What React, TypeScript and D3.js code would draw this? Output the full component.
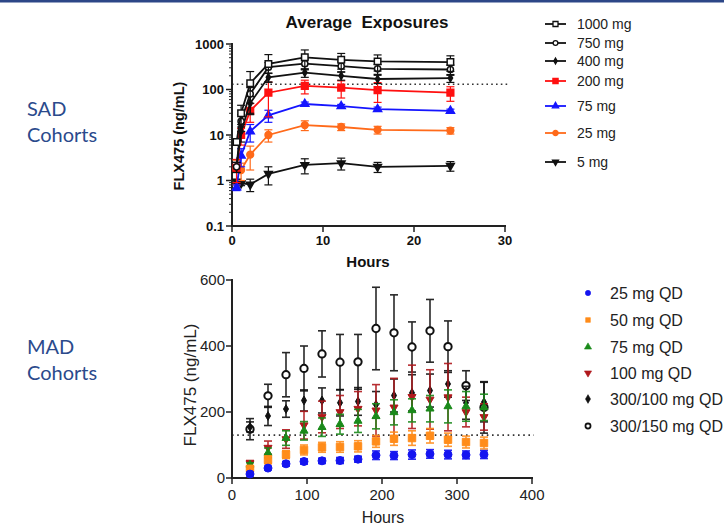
import React from "react";
import * as d3 from "d3";

// ---------- SAD (top) data ----------
const sadTimes = [0.5, 1, 2, 4, 8, 12, 16, 24];
const sadTimes5 = [0.5, 1, 2, 4, 8, 12, 16, 24];
const sad1000 = [7, 30, 138, 365, 510, 450, 415, 400];
const sad1000Sd = [1, 15, 110, 220, 230, 170, 160, 150];
const sad750 = [2, 20, 80, 310, 370, 325, 285, 275];
const sad750Sd = [0.5, 8, 30, 80, 100, 80, 70, 70];
const sad400 = [2, 12, 50, 185, 235, 200, 170, 178];
const sad400Sd = [0.5, 5, 20, 40, 50, 40, 35, 35];
const sad200 = [1.9, 10, 34, 85, 120, 110, 97, 85];
const sad200Sd = [1, 4, 15, 60, 40, 45, 45, 30];
const sad75 = [0.7, 3.5, 12, 27, 48, 43, 37, 34];
const sad75Sd = [0.1, 1.5, 5, 8, 5, 4, 4, 3];
const sad25 = [1.8, 1.7, 3.7, 10, 16.5, 15, 13, 12.5];
const sad25Sd = [1, 0.7, 2, 3, 4, 2.5, 2.5, 2];
const sad5 = [0.95, 0.87, 0.82, 1.4, 2.2, 2.4, 2.0, 2.1];
const sad5Sd = [0.1, 0.1, 0.25, 0.6, 0.8, 0.7, 0.5, 0.5];
const sadLabels = ["1000 mg", "750 mg", "400 mg", "200 mg", "75 mg", "25 mg", "5 mg"];
const sadYTicks = [0.1, 1, 10, 100, 1000];
const sadYTickLabels = ["0.1", "1", "10", "100", "1000"];
const sadXTicks = [0, 10, 20, 30];

// ---------- MAD (bottom) data ----------
const madTimes = [24, 48, 72, 96, 120, 144, 168, 192, 216, 240, 264, 288, 312, 336];
const mad25 = [12, 30, 43, 50, 52, 53, 57, 69, 68, 71, 73, 71, 70, 71];
const mad25Sd = [5, 5, 7, 8, 8, 9, 9, 13, 12, 14, 13, 13, 12, 12];
const mad50 = [28, 55, 71, 85, 93, 94, 96, 111, 119, 121, 128, 116, 109, 106];
const mad50Sd = [8, 12, 12, 15, 15, 16, 17, 18, 20, 22, 22, 20, 18, 18];
const mad75 = [40, 76, 121, 143, 154, 163, 173, 187, 199, 205, 210, 217, 217, 214];
const mad75Sd = [6, 15, 22, 28, 28, 30, 35, 38, 38, 35, 40, 50, 45, 40];
const mad100 = [45, 92, 118, 160, 185, 200, 210, 205, 214, 246, 238, 245, 200, 185];
const mad100Sd = [8, 20, 28, 42, 48, 50, 52, 78, 88, 96, 90, 102, 45, 40];
const mad300100 = [155, 188, 209, 235, 235, 228, 232, 222, 250, 258, 265, 285, 228, 230];
const mad300100Sd = [15, 29, 25, 32, 38, 40, 42, 40, 50, 55, 50, 40, 50, 60];
const mad300150 = [148, 249, 313, 332, 376, 351, 352, 453, 440, 397, 446, 398, 280, 214];
const mad300150Sd = [32, 35, 67, 68, 70, 84, 83, 125, 115, 76, 95, 78, 45, 78];
const madLabels = ["25 mg QD", "50 mg QD", "75 mg QD", "100 mg QD", "300/100 mg QD", "300/150 mg QD"];
const madYTicks = [0, 200, 400, 600];
const madXTicks = [0, 100, 200, 300, 400];
const threshold = 130;

const ARIAL = "'Liberation Sans', Arial, sans-serif";

type Shape = "square" | "circle" | "diamond" | "triangle" | "triangleDown";

function Marker({ x, y, shape, size, fill, stroke, sw = 1.5 }: any) {
  const typeMap: any = {
    square: d3.symbolSquare,
    circle: d3.symbolCircle,
    diamond: d3.symbolDiamond,
    triangle: d3.symbolTriangle,
    triangleDown: d3.symbolTriangle,
  };
  const p = d3.symbol().type(typeMap[shape]).size(size)() as string;
  const rot = shape === "triangleDown" ? 180 : 0;
  return (
    <path
      d={p}
      transform={`translate(${x},${y}) rotate(${rot})`}
      fill={fill}
      stroke={stroke}
      strokeWidth={sw}
    />
  );
}

export default function App() {
  // ---- top scales ----
  const xT = d3.scaleLinear().domain([0, 30]).range([232, 505]);
  const yT = d3.scaleLog().domain([0.1, 1000]).range([226, 44]);
  // ---- bottom scales ----
  const xB = d3.scaleLinear().domain([0, 400]).range([232, 532]);
  const yB = d3.scaleLinear().domain([0, 600]).range([478, 280]);

  const sadSeries = [
    { label: sadLabels[6], t: sadTimes5, v: sad5, sd: sad5Sd, color: "#111", shape: "triangleDown" as Shape, size: 26, open: false },
    { label: sadLabels[5], t: sadTimes, v: sad25, sd: sad25Sd, color: "#ff6a1a", shape: "circle" as Shape, size: 36, open: false },
    { label: sadLabels[4], t: sadTimes, v: sad75, sd: sad75Sd, color: "#1515ff", shape: "triangle" as Shape, size: 28, open: false },
    { label: sadLabels[3], t: sadTimes, v: sad200, sd: sad200Sd, color: "#ff1010", shape: "square" as Shape, size: 45, open: false },
    { label: sadLabels[2], t: sadTimes, v: sad400, sd: sad400Sd, color: "#111", shape: "diamond" as Shape, size: 16, open: false },
    { label: sadLabels[1], t: sadTimes, v: sad750, sd: sad750Sd, color: "#111", shape: "circle" as Shape, size: 30, open: true },
    { label: sadLabels[0], t: sadTimes, v: sad1000, sd: sad1000Sd, color: "#111", shape: "square" as Shape, size: 42, open: true },
  ];

  const madSeries = [
    { label: madLabels[5], v: mad300150, sd: mad300150Sd, color: "#111", shape: "circle" as Shape, size: 42, open: true },
    { label: madLabels[4], v: mad300100, sd: mad300100Sd, color: "#111", shape: "diamond" as Shape, size: 22, open: false },
    { label: madLabels[3], v: mad100, sd: mad100Sd, color: "#b0181c", shape: "triangleDown" as Shape, size: 28, open: false },
    { label: madLabels[2], v: mad75, sd: mad75Sd, color: "#1a8a1a", shape: "triangle" as Shape, size: 28, open: false },
    { label: madLabels[1], v: mad50, sd: mad50Sd, color: "#ff8c1a", shape: "square" as Shape, size: 55, open: false },
    { label: madLabels[0], v: mad25, sd: mad25Sd, color: "#1414f0", shape: "circle" as Shape, size: 50, open: false },
  ];

  const topLegendY = [24, 43, 61, 81, 106, 133, 162];
  const topLegendOrder = [6, 5, 4, 3, 2, 1, 0];
  const botLegendY = [293, 320, 347, 373, 399, 426];
  const botLegendOrder = [5, 4, 3, 2, 1, 0];

  const minorLog: number[] = [];
  for (let e = -1; e < 3; e++) {
    for (let k = 2; k <= 9; k++) minorLog.push(k * Math.pow(10, e));
  }

  const line = d3
    .line<[number, number]>()
    .x((d) => xT(d[0]))
    .y((d) => yT(d[1]));

  return (
    <div style={{ position: "absolute", left: 0, top: 0 }}>
      <svg width={724} height={525} style={{ display: "block", background: "#fff" }}>
        <rect x={0} y={0} width={724} height={525} fill="#fff" />
        <rect x={0} y={0} width={724} height={2.5} fill="#2c4687" />

        {/* Side labels */}
        <g fontFamily="Lato, sans-serif" fontSize={20} fill="#2b4a8c">
          <text x={27} y={116}>SAD</text>
          <text x={27} y={142}>Cohorts</text>
          <text x={27} y={354}>MAD</text>
          <text x={27} y={380}>Cohorts</text>
        </g>

        {/* ---------- TOP CHART ---------- */}
        <text x={367} y={28} textAnchor="middle" fontFamily={ARIAL} fontWeight="bold" fontSize={17} fill="#111" style={{ whiteSpace: "pre" }}>
          Average  Exposures
        </text>
        <line x1={232} x2={508} y1={yT(threshold)} y2={yT(threshold)} stroke="#333" strokeWidth={1.6} strokeDasharray="1.6,3.2" />
        <line x1={232} x2={232} y1={43} y2={227} stroke="#222" strokeWidth={2} />
        <line x1={231} x2={506} y1={226} y2={226} stroke="#222" strokeWidth={2} />
        {sadYTicks.map((t, i) => (
          <g key={"yt" + i}>
            <line x1={226} x2={232} y1={yT(t)} y2={yT(t)} stroke="#222" strokeWidth={1.5} />
            <text x={224} y={yT(t) + 4.5} textAnchor="end" fontFamily={ARIAL} fontWeight="bold" fontSize={13} fill="#111">
              {sadYTickLabels[i]}
            </text>
          </g>
        ))}
        {minorLog.map((t, i) => (
          <line key={"ym" + i} x1={229} x2={232} y1={yT(t)} y2={yT(t)} stroke="#222" strokeWidth={1} />
        ))}
        {sadXTicks.map((t, i) => (
          <g key={"xt" + i}>
            <line x1={xT(t)} x2={xT(t)} y1={226} y2={232} stroke="#222" strokeWidth={1.5} />
            <text x={xT(t)} y={245} textAnchor="middle" fontFamily={ARIAL} fontWeight="bold" fontSize={13} fill="#111">
              {t}
            </text>
          </g>
        ))}
        <text x={368} y={267} textAnchor="middle" fontFamily={ARIAL} fontWeight="bold" fontSize={15} fill="#111">
          Hours
        </text>
        <text transform={`translate(184,136) rotate(-90)`} textAnchor="middle" fontFamily={ARIAL} fontWeight="bold" fontSize={14.5} fill="#111">
          FLX475 (ng/mL)
        </text>

        {sadSeries.map((s, si) => {
          const pts = s.t.map((t, i) => [t, s.v[i]] as [number, number]);
          return (
            <g key={"s" + si}>
              <path d={line(pts) as string} fill="none" stroke={s.color} strokeWidth={1.8} />
              {s.t.map((t, i) => {
                const hi = s.v[i] + s.sd[i];
                const lo = Math.max(s.v[i] - s.sd[i], 0.11);
                const x = xT(t);
                return (
                  <g key={i} stroke={s.color} strokeWidth={1.2}>
                    <line x1={x} x2={x} y1={yT(hi)} y2={yT(lo)} />
                    <line x1={x - 4} x2={x + 4} y1={yT(hi)} y2={yT(hi)} />
                    <line x1={x - 4} x2={x + 4} y1={yT(lo)} y2={yT(lo)} />
                  </g>
                );
              })}
              {s.t.map((t, i) => (
                <Marker key={"m" + i} x={xT(t)} y={yT(s.v[i])} shape={s.shape} size={s.size} fill={s.open ? "#fff" : s.color} stroke={s.color} sw={1.5} />
              ))}
            </g>
          );
        })}

        {/* top legend */}
        {topLegendOrder.map((idx, r) => {
          const s = sadSeries[idx];
          const y = topLegendY[r];
          return (
            <g key={"tl" + r}>
              <line x1={545} x2={566} y1={y} y2={y} stroke={s.color} strokeWidth={1.8} />
              <Marker x={555.5} y={y} shape={s.shape} size={s.size * 0.6} fill={s.open ? "#fff" : s.color} stroke={s.color} sw={1.3} />
              <text x={577} y={y + 5} fontFamily={ARIAL} fontSize={14} fill="#222">
                {s.label}
              </text>
            </g>
          );
        })}

        {/* ---------- BOTTOM CHART ---------- */}
        <line x1={232} x2={534} y1={yB(threshold)} y2={yB(threshold)} stroke="#333" strokeWidth={1.6} strokeDasharray="1.6,3.6" />
        <line x1={232} x2={232} y1={279} y2={479} stroke="#222" strokeWidth={2} />
        <line x1={231} x2={533} y1={478} y2={478} stroke="#222" strokeWidth={2} />
        {madYTicks.map((t, i) => (
          <g key={"byt" + i}>
            <line x1={226} x2={232} y1={yB(t)} y2={yB(t)} stroke="#222" strokeWidth={1.5} />
            <text x={225} y={yB(t) + 5} textAnchor="end" fontFamily={ARIAL} fontSize={15} fill="#222">
              {t}
            </text>
          </g>
        ))}
        {madXTicks.map((t, i) => (
          <g key={"bxt" + i}>
            <line x1={xB(t)} x2={xB(t)} y1={478} y2={484} stroke="#222" strokeWidth={1.5} />
            <text x={xB(t)} y={500} textAnchor="middle" fontFamily={ARIAL} fontSize={15} fill="#222">
              {t}
            </text>
          </g>
        ))}
        <text x={383} y={523} textAnchor="middle" fontFamily={ARIAL} fontSize={16} fill="#222">
          Hours
        </text>
        <text transform={`translate(196,385) rotate(-90)`} textAnchor="middle" fontFamily={ARIAL} fontSize={17} fill="#222">
          FLX475 (ng/mL)
        </text>

        {madSeries.map((s, si) => (
          <g key={"b" + si}>
            {madTimes.map((t, i) => {
              const x = xB(t);
              const hi = s.v[i] + s.sd[i];
              const lo = Math.max(s.v[i] - s.sd[i], 0);
              return (
                <g key={i} stroke={s.color} strokeWidth={1.6} opacity={0.9}>
                  <line x1={x} x2={x} y1={yB(hi)} y2={yB(lo)} />
                  <line x1={x - 4} x2={x + 4} y1={yB(hi)} y2={yB(hi)} />
                  <line x1={x - 4} x2={x + 4} y1={yB(lo)} y2={yB(lo)} />
                </g>
              );
            })}
            {madTimes.map((t, i) => (
              <Marker key={"bm" + i} x={xB(t)} y={yB(s.v[i])} shape={s.shape} size={s.size} fill={s.open ? "#fff" : s.color} stroke={s.color} sw={s.open ? 2 : 1} />
            ))}
          </g>
        ))}

        {/* bottom legend */}
        {botLegendOrder.map((idx, r) => {
          const s = madSeries[idx];
          const y = botLegendY[r];
          return (
            <g key={"bl" + r}>
              <Marker x={588} y={y} shape={s.shape} size={s.open ? 20 : 22} fill={s.open ? "#fff" : s.color} stroke={s.color} sw={s.open ? 1.8 : 0.6} />
              <text x={610} y={y + 5.5} fontFamily={ARIAL} fontSize={16} fill="#222">
                {s.label}
              </text>
            </g>
          );
        })}
      </svg>
    </div>
  );
}
